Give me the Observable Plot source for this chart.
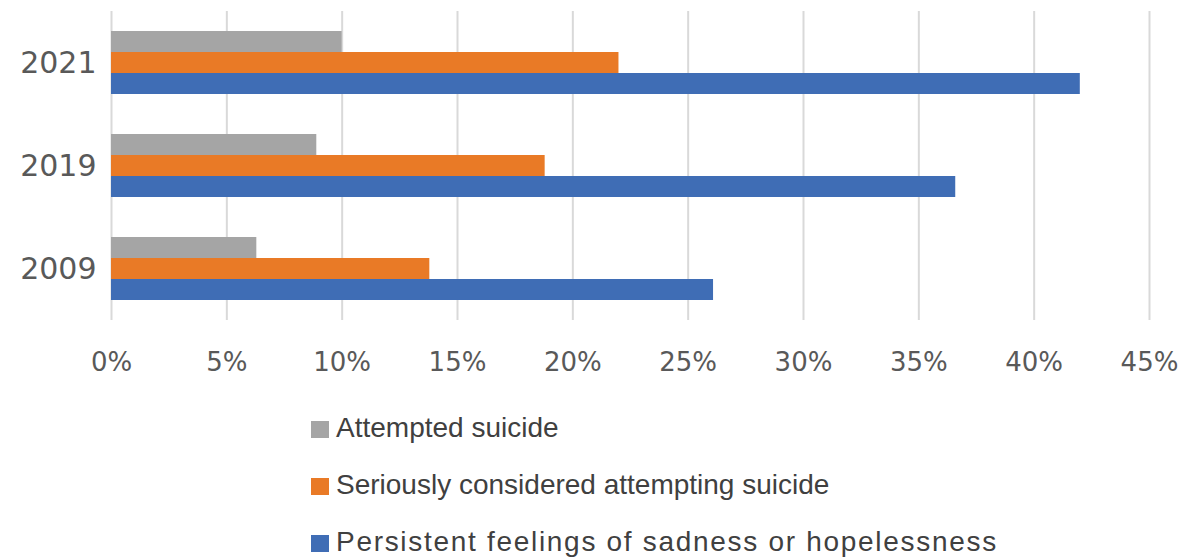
<!DOCTYPE html>
<html>
<head>
<meta charset="utf-8">
<script src="https://cdn.jsdelivr.net/npm/d3@7"></script>
<script src="https://cdn.jsdelivr.net/npm/@observablehq/plot@0.6"></script>
<style>
  html, body { margin: 0; padding: 0; background: #ffffff; }
  #wrap { position: relative; width: 1191px; height: 560px; overflow: hidden; }
  #legend { position: absolute; left: 311px; top: 412px; font-family: "Liberation Sans", Arial, sans-serif; font-size: 28px; color: #404040; }
  .row { display: flex; align-items: center; height: 32px; line-height: 32px; margin-bottom: 25px; white-space: nowrap; }
  .sw { width: 18px; height: 17px; margin-right: 7px; flex: none; margin-top: 3px; }
</style>
</head>
<body>
<div id="wrap"><div id="chart"></div><div id="legend"></div></div>
<script>
const years = ["2021", "2019", "2009"];
const series = ["Attempted suicide", "Seriously considered attempting suicide", "Persistent feelings of sadness or hopelessness"];
const colors = ["#a5a5a5", "#e97a26", "#3f6db5"];
const attempted = [0.100, 0.089, 0.063];
const considered = [0.220, 0.188, 0.138];
const persistent = [0.420, 0.366, 0.261];
const xTicks = [0, 0.05, 0.10, 0.15, 0.20, 0.25, 0.30, 0.35, 0.40, 0.45];

const values = [attempted, considered, persistent];
const data = [];
years.forEach((y, i) => series.forEach((s, j) => data.push({year: y, series: s, value: values[j][i]})));

const chart = Plot.plot({
  width: 1191,
  height: 385,
  marginLeft: 111,
  marginRight: 42,
  marginTop: 10,
  marginBottom: 64,
  style: {color: "#595959", background: "transparent", overflow: "visible"},
  x: {domain: [0, 0.45], axis: null},
  y: {domain: series, paddingInner: 0, paddingOuter: 0.9, axis: null},
  fy: {domain: years, padding: 0, axis: null},
  color: {domain: series, range: colors},
  marks: [
    Plot.gridX(xTicks, {stroke: "#d9d9d9", strokeWidth: 2, strokeOpacity: 1}),
    Plot.barX(data, {fy: "year", y: "series", x: "value", fill: "series"}),
    Plot.axisX(xTicks, {anchor: "bottom", tickSize: 0, tickPadding: 32, tickFormat: d3.format(".0%"), fontSize: 26, fontFamily: "DejaVu Sans", fill: "#595959", label: null}),
    Plot.axisFy({anchor: "left", tickSize: 0, tickPadding: 15, fontSize: 30, fontFamily: "DejaVu Sans", fill: "#595959", label: null})
  ]
});
document.getElementById("chart").appendChild(chart);

const legend = document.getElementById("legend");
series.forEach((s, j) => {
  const row = document.createElement("div");
  row.className = "row";
  const sw = document.createElement("span");
  sw.className = "sw";
  sw.style.background = colors[j];
  const t = document.createElement("span");
  t.textContent = s;
  if (j === 2) t.style.letterSpacing = "1.7px";
  row.appendChild(sw);
  row.appendChild(t);
  legend.appendChild(row);
});
</script>
</body>
</html>
